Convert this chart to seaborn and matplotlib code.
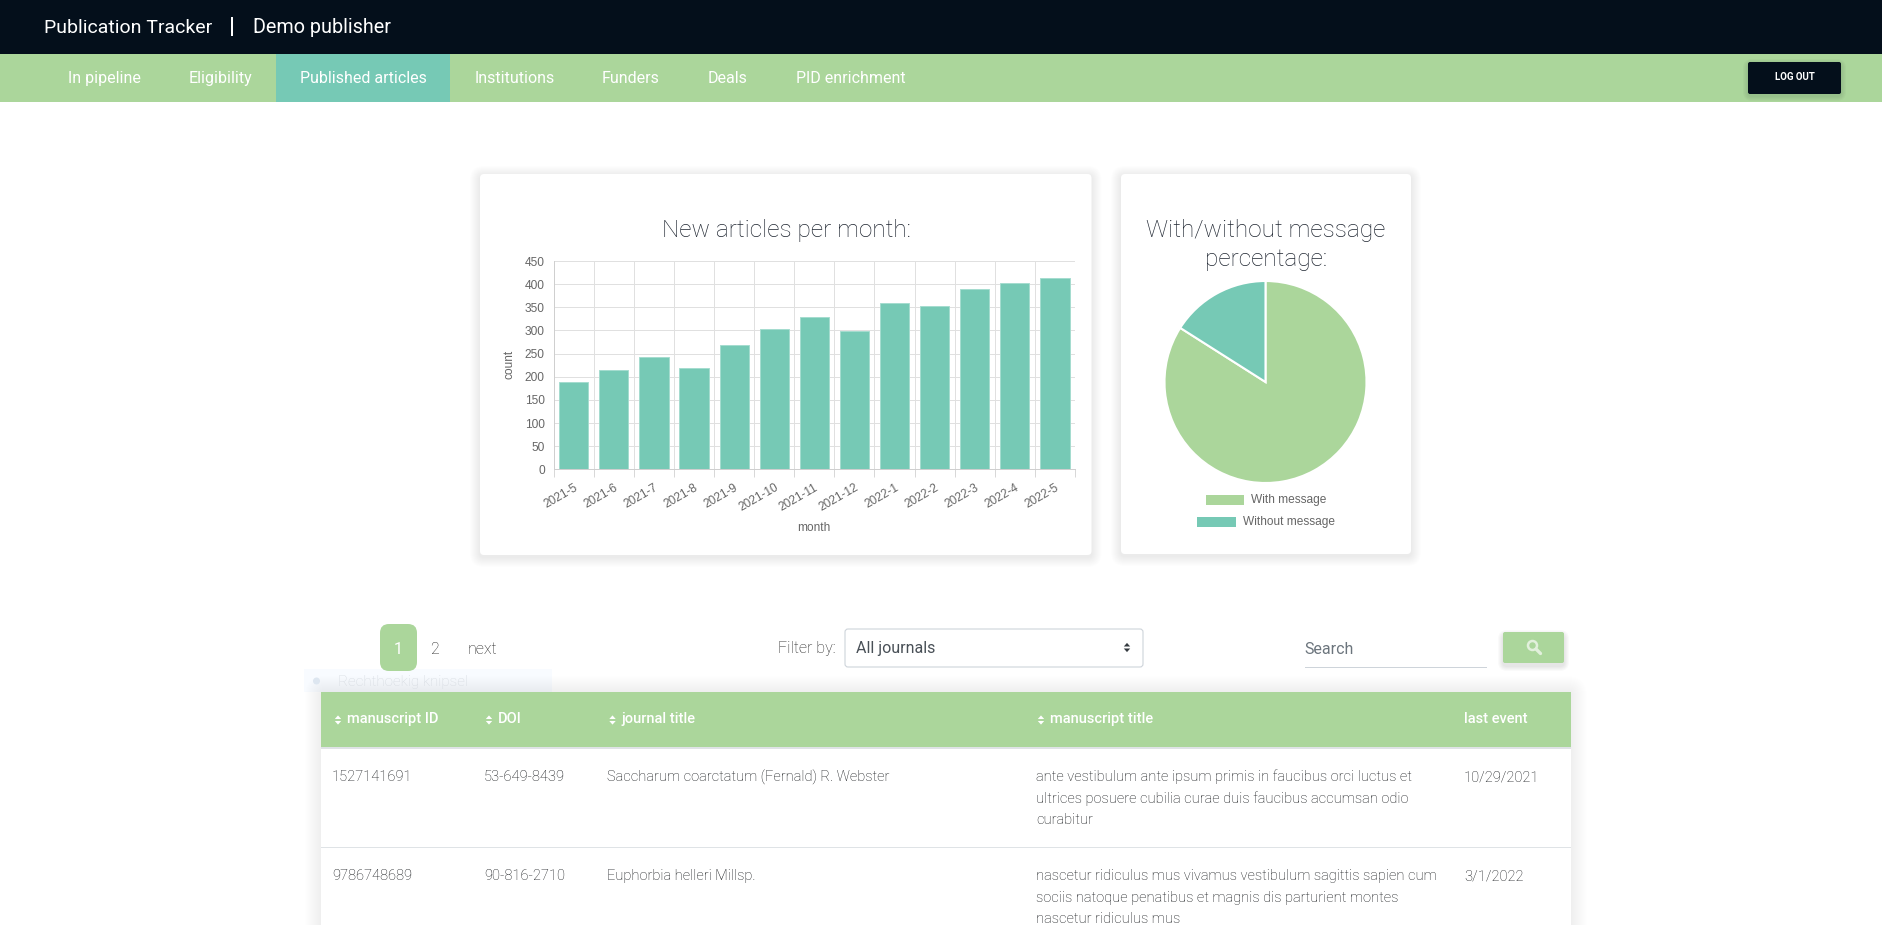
import numpy as np
import pandas as pd
import matplotlib
matplotlib.use('Agg')
import matplotlib.pyplot as plt
from matplotlib.patches import FancyBboxPatch, Rectangle, Circle, Polygon
import seaborn as sns

# Chart data
months = ['2021-5', '2021-6', '2021-7', '2021-8', '2021-9', '2021-10', '2021-11',
          '2021-12', '2022-1', '2022-2', '2022-3', '2022-4', '2022-5']
counts = [189, 214, 243, 218, 268, 303, 328, 298, 359, 352, 389, 402, 414]
pie_labels = ['With message', 'Without message']
pie_values = [84, 16]

# Page text
nav_items = ['In pipeline', 'Eligibility', 'Published articles', 'Institutions',
             'Funders', 'Deals', 'PID enrichment']
table_headers = ['manuscript ID', 'DOI', 'journal title', 'manuscript title', 'last event']
row_1 = ['1527141691', '53-649-8439', 'Saccharum coarctatum (Fernald) R. Webster',
         'ante vestibulum ante ipsum primis in faucibus orci luctus et\n'
         'ultrices posuere cubilia curae duis faucibus accumsan odio\ncurabitur',
         '10/29/2021']
row_2 = ['9786748689', '90-816-2710', 'Euphorbia helleri Millsp.',
         'nascetur ridiculus mus vivamus vestibulum sagittis sapien cum\n'
         'sociis natoque penatibus et magnis dis parturient montes\nnascetur ridiculus mus',
         '3/1/2022']

# Colours
DARK = '#040f1b'
GREEN = '#abd69b'
TEAL = '#76c9b5'
TEXT = '#212529'
GREY = '#666666'

W, H = 1883, 925

sns.set_theme(style='white')
plt.rcParams['font.family'] = ['Roboto', 'DejaVu Sans']

fig = plt.figure(figsize=(W / 100, H / 100), dpi=100, facecolor='white')

# Full page axes in pixel coordinates, y going down
page = fig.add_axes([0, 0, 1, 1], zorder=0)
page.set_xlim(0, W)
page.set_ylim(H, 0)
page.axis('off')


def rect(x0, y0, x1, y1, color, z=1):
    page.add_patch(Rectangle((x0, y0), x1 - x0, y1 - y0, facecolor=color, edgecolor='none', zorder=z))


def rounded(x0, y0, x1, y1, color, r=4, z=2, edge='none', lw=0):
    page.add_patch(FancyBboxPatch((x0 + r, y0 + r), x1 - x0 - 2 * r, y1 - y0 - 2 * r,
                                  boxstyle=f'round,pad={r},rounding_size={r}',
                                  facecolor=color, edgecolor=edge, linewidth=lw, zorder=z))


def shadow(x0, y0, x1, y1, spread=10, dy=2, z=1.5, strength=0.008):
    for i in range(spread, 0, -1):
        rounded(x0 - i, y0 - i + dy, x1 + i, y1 + i + dy, (0, 0, 0, strength), r=4 + i, z=z)


def label(x, y, s, size=10.5, color=TEXT, weight='normal', ha='left', **kw):
    # y is the middle of the capitals, in page pixels
    base = y + 0.35 * size * 100 / 72
    return page.text(x, base, s, fontsize=size, color=color, fontweight=weight, ha=ha, va='baseline', zorder=5, **kw)


def sort_arrows(x, y, color='white', half=3.2, tall=3.6):
    page.add_patch(Polygon([(x - half, y - 1), (x + half, y - 1), (x, y - 1 - tall)], facecolor=color, edgecolor='none', zorder=5))
    page.add_patch(Polygon([(x - half, y + 1), (x + half, y + 1), (x, y + 1 + tall)], facecolor=color, edgecolor='none', zorder=5))


# Header and navigation
rect(0, 0, W, 54, DARK)
rect(0, 54, W, 102, GREEN)
rect(276, 54, 450, 102, TEAL, z=2)
label(44, 26, 'Publication Tracker', size=14, color='white')
rect(231.5, 17, 233, 36, 'white', z=3)
label(253, 26, 'Demo publisher', size=14.2, color='white')
nav_x = [68.5, 189, 300, 475, 602, 708, 796]
for x, s in zip(nav_x, nav_items):
    label(x, 77, s, size=11.5, color='white')
shadow(1748, 62, 1841, 94, spread=5, dy=2, strength=0.02)
rounded(1748, 62, 1841, 94, DARK, r=2, z=3)
label(1794.5, 77, 'LOG OUT', size=7, color='white', weight='bold', ha='center')

# Cards
for box in [(480, 174, 1091.5, 555), (1121, 174, 1411, 554)]:
    shadow(*box)
    rounded(*box, 'white', r=4, z=2)
label(786, 228, 'New articles per month:', size=17.6, color='#1e2530', weight='light', ha='center')
label(1266, 228, 'With/without message', size=17.6, color='#1e2530', weight='light', ha='center')
label(1266, 257, 'percentage:', size=17.6, color='#1e2530', weight='light', ha='center')

# Bar chart
left, right, top, bottom = 553.7, 1075, 261, 469.3
ax = fig.add_axes([left / W, 1 - bottom / H, (right - left) / W, (bottom - top) / H], zorder=3)
ax.patch.set_alpha(0)
df = pd.DataFrame({'month': months, 'count': counts})
sns.barplot(data=df, x='month', y='count', color=TEAL, saturation=1, width=0.73,
            edgecolor='#a5dccf', linewidth=0.7, ax=ax, zorder=3)
ax.set_xlim(-0.5, len(months) - 0.5)
ax.set_ylim(0, 450)
ax.set_yticks(np.arange(0, 451, 50))
ax.set_xticks(np.arange(len(months) + 1) - 0.5, minor=True)
ax.grid(True, axis='y', color='#e0e0e0', linewidth=0.72, zorder=0)
ax.grid(True, axis='x', which='minor', color='#e0e0e0', linewidth=0.72, zorder=0)
ax.grid(False, axis='x', which='major')
ax.set_axisbelow(True)
for name, spine in ax.spines.items():
    spine.set_visible(name in ('left', 'bottom'))
    spine.set_color('#cfcfcf')
    spine.set_linewidth(0.72)
ax.tick_params(axis='x', which='major', length=0, pad=9)
ax.tick_params(axis='x', which='minor', length=6, width=0.72, color='#d8d8d8', bottom=True)
ax.tick_params(axis='y', length=0, pad=6.5)
for t in ax.get_yticklabels():
    t.set_fontfamily('Liberation Sans')
    t.set_fontsize(8.6)
    t.set_color(GREY)
for t in ax.get_xticklabels():
    t.set_fontfamily('Liberation Sans')
    t.set_fontsize(8.6)
    t.set_color(GREY)
    t.set_rotation(30)
    t.set_ha('right')
    t.set_rotation_mode('anchor')
ax.set_xlabel('month', fontfamily='Liberation Sans', fontsize=8.6, color=GREY)
ax.set_ylabel('count', fontfamily='Liberation Sans', fontsize=8.6, color=GREY)
ax.xaxis.set_label_coords(813.5, 527.7, transform=page.transData)
ax.yaxis.set_label_coords(510, 364, transform=page.transData)
ax.xaxis.label.set_va('center')
ax.yaxis.label.set_va('center')

# Pie chart
cx, cy, r = 1265.5, 382, 101
pie_ax = fig.add_axes([(cx - r) / W, 1 - (cy + r) / H, 2 * r / W, 2 * r / H], zorder=3)
pie_ax.pie(pie_values, colors=[GREEN, TEAL], startangle=90, counterclock=False, radius=1,
           wedgeprops={'edgecolor': 'white', 'linewidth': 1.5})
pie_ax.set_xlim(-1, 1)
pie_ax.set_ylim(-1, 1)

# Pie legend
legend_rows = [(1206, 1244, 495, 505, 1251, 499), (1197, 1236, 517, 527, 1243, 521)]
for (x0, x1, y0, y1, tx, ty), s, c in zip(legend_rows, pie_labels, [GREEN, TEAL]):
    rect(x0, y0, x1, y1, c, z=3)
    label(tx, ty, s, size=8.6, color=GREY, family='Liberation Sans')

# Pagination, filter and search
rounded(380, 624, 417, 671, GREEN, r=9, z=3)
label(398.5, 648, '1', size=11.5, color='white', ha='center')
label(435, 648, '2', size=11.5, color='#222222', ha='center', weight='light')
label(468, 648, 'next', size=11.5, color='#222222', weight='light')
label(778, 647, 'Filter by:', size=11.5, color='#222222', weight='light')
rounded(845, 629, 1143, 667, 'white', r=3, z=2, edge='#ced4da', lw=0.8)
label(856, 647.5, 'All journals', size=11.5, color='#495057')
sort_arrows(1127, 647.5, color='#343a40')
label(1304, 648.5, 'Search', size=11.5, color='#6c757d')
rect(1305, 666.5, 1487, 667.5, '#ced4da')
shadow(1503, 632, 1564, 663, spread=5, dy=3, strength=0.02)
rounded(1503, 632, 1564, 663, GREEN, r=2, z=3)
page.add_patch(Circle((1532.5, 645.5), 4.5, facecolor='none', edgecolor='#e2f0dc', linewidth=1.8, zorder=5))
page.plot([1536, 1540.5], [649, 653.5], color='#e2f0dc', linewidth=2.4, zorder=5)

# Faint snipping tool tooltip
rect(304, 669, 552, 692, '#f8fbff')
page.add_patch(Circle((316.5, 681), 3.5, facecolor='#dde6f0', edgecolor='none', zorder=2))
label(338, 681, 'Rechthoekig knipsel', size=11, color='#d5dae0', weight='light')

# Table
shadow(321, 692, 1571, 960, spread=16, dy=0, strength=0.003)
rect(321, 692, 1571, 925, 'white', z=2)
rect(321, 692, 1571, 747, GREEN, z=3)
rect(321, 747, 1571, 749, '#dfe3e6', z=3)
rect(321, 846.5, 1571, 847.5, '#dfe3e6', z=3)
header_x = [346.6, 498, 621.6, 1050, 1464]
arrow_x = [338, 489, 612.5, 1041]
for x, s in zip(header_x, table_headers):
    label(x, 718, s, size=10.5, color='white', weight='medium')
for x in arrow_x:
    sort_arrows(x, 720)

col_x = [332, 484, 607, 1036, 1464]
for y, row in zip([776, 875], [row_1, row_2]):
    for x, s in zip(col_x, row):
        for i, line in enumerate(s.split('\n')):
            label(x, y + i * 21.5, line, size=10.5, weight='light', color='#111417')

fig.savefig('out.png', dpi=100)
